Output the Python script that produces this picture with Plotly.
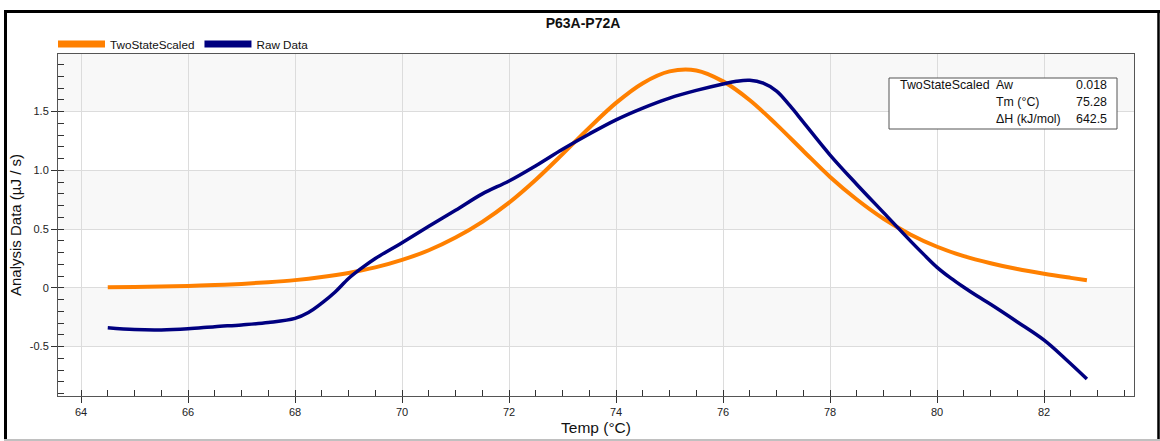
import plotly.graph_objects as go

# ---------------- data ----------------
fit_temp = [64.5, 65, 65.5, 66, 66.5, 67, 67.5, 68, 68.5, 69, 69.5, 70, 70.5, 71, 71.5,
            72, 72.5, 73, 73.5, 74, 74.5, 75, 75.5, 76, 76.5, 77, 77.5, 78, 78.5,
            79, 79.5, 80, 80.5, 81, 81.5, 82, 82.5, 82.8]
fit_vals = [0.005, 0.008, 0.012, 0.017, 0.024, 0.034, 0.048, 0.066, 0.092, 0.127, 0.174,
            0.238, 0.32, 0.428, 0.562, 0.725, 0.92, 1.138, 1.363, 1.574, 1.742, 1.842,
            1.85, 1.757, 1.597, 1.389, 1.165, 0.944, 0.752, 0.588, 0.455, 0.35, 0.27,
            0.21, 0.16, 0.12, 0.085, 0.065]

raw_temp = [64.5, 65, 65.5, 66, 66.5, 67, 67.5, 68, 68.25, 68.5, 68.75, 69, 69.25, 69.5,
            70, 70.5, 71, 71.5, 72, 72.5, 73, 73.5, 74, 74.5, 75, 75.5, 76, 76.25, 76.5,
            76.75, 77, 77.25, 77.5, 78, 78.5, 79, 79.5, 79.75, 80, 80.25, 80.5, 80.75, 81,
            81.5, 82, 82.4, 82.8]
raw_vals = [-0.34, -0.355, -0.358, -0.348, -0.33, -0.315, -0.295, -0.26, -0.21, -0.13,
            -0.035, 0.08, 0.17, 0.25, 0.385, 0.525, 0.66, 0.80, 0.91, 1.04, 1.18, 1.31, 1.43,
            1.53, 1.615, 1.68, 1.735, 1.758, 1.766, 1.742, 1.675, 1.55, 1.41, 1.13, 0.88,
            0.64, 0.40, 0.285, 0.175, 0.085, 0.005, -0.07, -0.14, -0.29, -0.445, -0.605,
            -0.775]

x_ticks = [64, 66, 68, 70, 72, 74, 76, 78, 80, 82]
y_ticks = [-0.5, 0, 0.5, 1.0, 1.5]
y_tick_text = ["-0.5", "0", "0.5", "1.0", "1.5"]
x_range = [63.57, 83.68]
y_range = [-0.92, 1.99]

series_names = ["TwoStateScaled", "Raw Data"]
series_colors = ["#FF8000", "#000080"]

table_rows = [["TwoStateScaled", "Aw", "0.018"],
              ["", "Tm (°C)", "75.28"],
              ["", "ΔH (kJ/mol)", "642.5"]]

FONT = "Liberation Sans, Arial, sans-serif"

# ---------------- figure ----------------
W, H = 1160, 441
ML, MR, MT, MB = 58, 26, 54, 45
PW, PH = W - ML - MR, H - MT - MB


def px(xp):
    return (xp - ML) / PW


def py(yp):
    return (H - MB - yp) / PH


fig = go.Figure()

fig.add_trace(go.Scatter(x=fit_temp, y=fit_vals, mode="lines", name=series_names[0],
                         line=dict(color=series_colors[0], width=4, shape="spline"),
                         showlegend=False))
fig.add_trace(go.Scatter(x=raw_temp, y=raw_vals, mode="lines", name=series_names[1],
                         line=dict(color=series_colors[1], width=3.5, shape="spline"),
                         showlegend=False))
# legend entries (thick bars)
for nm, col in zip(series_names, series_colors):
    fig.add_trace(go.Scatter(x=[None], y=[None], mode="lines", name=nm,
                             line=dict(color=col, width=7)))

shapes = []
# alternating background bands between y gridlines
bounds = [y_range[0]] + y_ticks + [y_range[1]]
for i in range(len(bounds) - 1):
    if i % 2 == 1:
        shapes.append(dict(type="rect", xref="paper", yref="y", x0=0, x1=1,
                           y0=bounds[i], y1=bounds[i + 1], fillcolor="#f8f8f8",
                           line=dict(width=0), layer="below"))

# stats table box
shapes.append(dict(type="rect", xref="paper", yref="paper",
                   x0=px(889), x1=px(1117), y0=py(129), y1=py(78),
                   fillcolor="white", line=dict(color="#555", width=1)))

# outer frame
shapes.append(dict(type="line", xref="paper", yref="paper", x0=px(5.5), x1=px(5.5),
                   y0=py(10.5), y1=py(441), line=dict(color="black", width=3)))
shapes.append(dict(type="line", xref="paper", yref="paper", x0=px(4), x1=px(1160),
                   y0=py(11.5), y1=py(11.5), line=dict(color="black", width=3)))
shapes.append(dict(type="line", xref="paper", yref="paper", x0=px(1158.5), x1=px(1158.5),
                   y0=py(10.5), y1=py(441), line=dict(color="black", width=2.5)))
shapes.append(dict(type="line", xref="paper", yref="paper", x0=px(4), x1=px(1160),
                   y0=py(440), y1=py(440), line=dict(color="#c0c0c0", width=2)))

annotations = []
row_y = [85, 102, 119]
TFS = 12.4
for r, row in enumerate(table_rows):
    if row[0]:
        annotations.append(dict(text=row[0], xref="paper", yref="paper", x=px(898),
                                y=py(row_y[r]), xanchor="left", yanchor="middle",
                                showarrow=False, font=dict(size=TFS, color="#111", family=FONT)))
    annotations.append(dict(text=row[1], xref="paper", yref="paper", x=px(994),
                            y=py(row_y[r]), xanchor="left", yanchor="middle",
                            showarrow=False, font=dict(size=TFS, color="#111", family=FONT)))
    annotations.append(dict(text=row[2], xref="paper", yref="paper", x=px(1109),
                            y=py(row_y[r]), xanchor="right", yanchor="middle",
                            showarrow=False, font=dict(size=TFS, color="#111", family=FONT)))

fig.update_layout(
    width=W, height=H,
    margin=dict(l=ML, r=MR, t=MT, b=MB),
    paper_bgcolor="white", plot_bgcolor="white",
    font=dict(family=FONT, color="#111"),
    title=dict(text="<b>P63A-P72A</b>", x=583 / W, xref="container", xanchor="center",
               y=1 - 23 / H, yref="container", yanchor="middle",
               font=dict(size=14, color="#111", family=FONT)),
    showlegend=True,
    legend=dict(orientation="h", x=px(53), y=py(44), xanchor="left", yanchor="middle",
                font=dict(size=11.7, color="#111", family=FONT), bgcolor="rgba(0,0,0,0)",
                itemwidth=47, tracegroupgap=0),
    shapes=shapes,
    annotations=annotations,
    xaxis=dict(range=x_range, tickvals=x_ticks, ticks="outside", ticklen=6,
               tickcolor="#333", tickfont=dict(size=11, color="#222"),
               showgrid=True, gridcolor="#dcdcdc", gridwidth=1, zeroline=False,
               showline=True, linecolor="#555", linewidth=1, mirror=True, automargin=False,
               minor=dict(dtick=0.5, ticks="inside", ticklen=6, tickcolor="#333", showgrid=False),
               title=dict(text="Temp (°C)", font=dict(size=15.5, color="#111"), standoff=4)),
    yaxis=dict(range=y_range, tickvals=y_ticks, ticktext=y_tick_text, ticks="outside",
               ticklen=6, tickcolor="#333", tickfont=dict(size=11, color="#222"),
               showgrid=True, gridcolor="#dcdcdc", gridwidth=1, zeroline=False,
               showline=True, linecolor="#555", linewidth=1, mirror=True, automargin=False,
               minor=dict(dtick=0.1, ticks="inside", ticklen=6, tickcolor="#333", showgrid=False),
               title=dict(text="Analysis Data (µJ / s)", font=dict(size=15, color="#111"),
                          standoff=4)),
)

fig.write_html("out.html")
